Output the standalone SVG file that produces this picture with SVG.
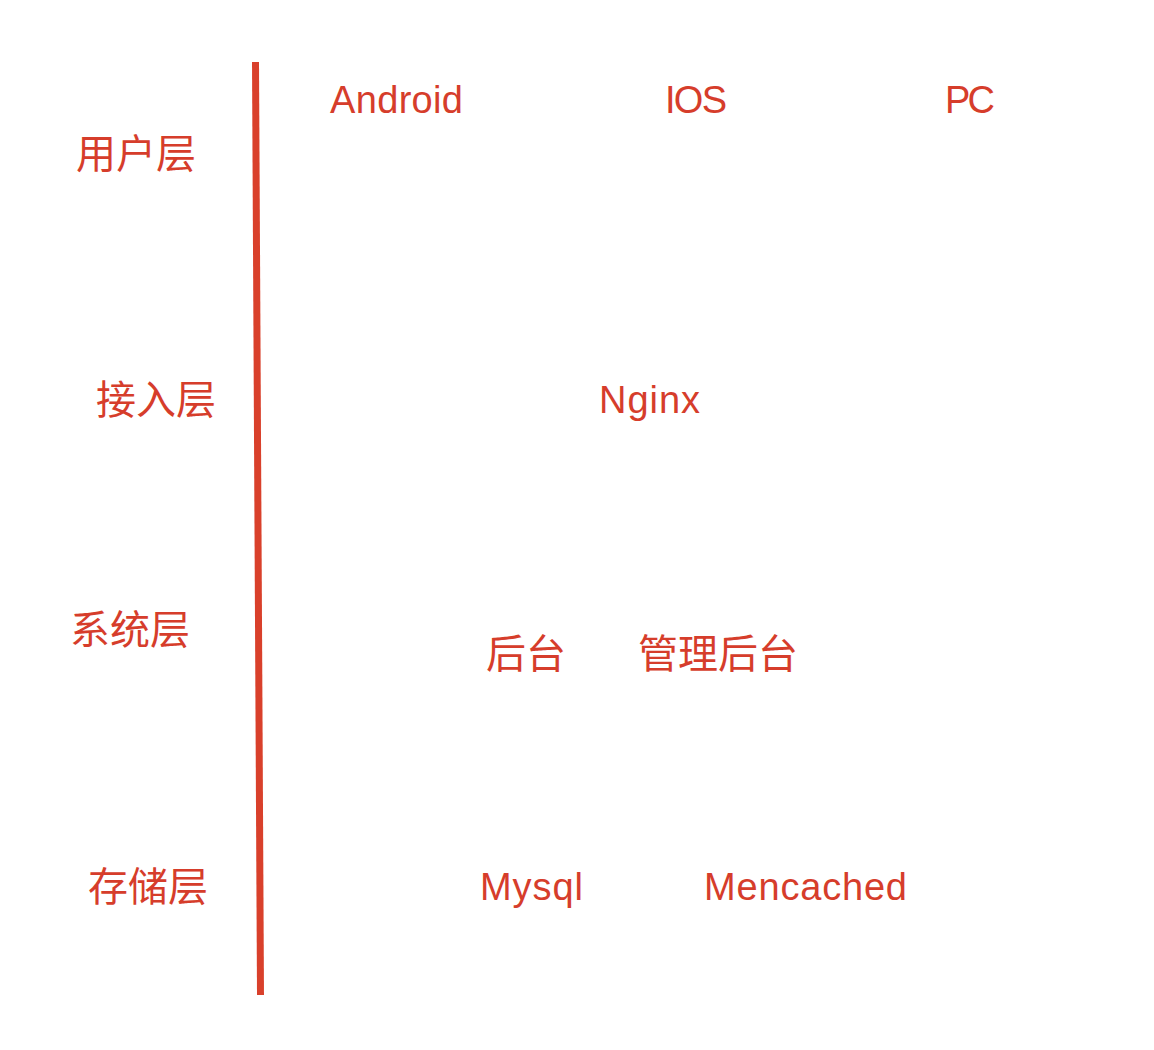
<svg xmlns="http://www.w3.org/2000/svg" width="1154" height="1050" viewBox="0 0 1154 1050">
<style>
.t{font-family:"Liberation Sans","Noto Sans CJK SC",sans-serif;font-size:38px;fill:#d63d2b}
.c{font-family:"Noto Sans CJK SC",sans-serif;font-size:40px;fill:#d63d2b}
</style>
<rect width="1154" height="1050" fill="#fff"/>
<g id="axis"><line x1="255.5" y1="62" x2="260.5" y2="995" stroke="#d9402b" stroke-width="7"/></g>
<g id="layer-user"><text class="c" x="76" y="168">用户层</text></g>
<g id="layer-access"><text class="c" x="96" y="414">接入层</text></g>
<g id="layer-system"><text class="c" x="70" y="644">系统层</text></g>
<g id="layer-storage"><text class="c" x="88" y="901">存储层</text></g>
<g id="android"><text class="t" x="330" y="113" textLength="133">Android</text></g>
<g id="ios"><text class="t" x="665" y="113" textLength="62">IOS</text></g>
<g id="pc"><text class="t" x="945" y="113" textLength="50">PC</text></g>
<g id="nginx"><text class="t" x="599" y="413" textLength="101">Nginx</text></g>
<g id="backend"><text class="c" x="486" y="668">后台</text></g>
<g id="admin"><text class="c" x="638" y="668">管理后台</text></g>
<g id="mysql"><text class="t" x="480" y="900" textLength="103">Mysql</text></g>
<g id="memcached"><text class="t" x="704" y="900" textLength="203">Mencached</text></g>
<g id="connectors"></g>
</svg>
